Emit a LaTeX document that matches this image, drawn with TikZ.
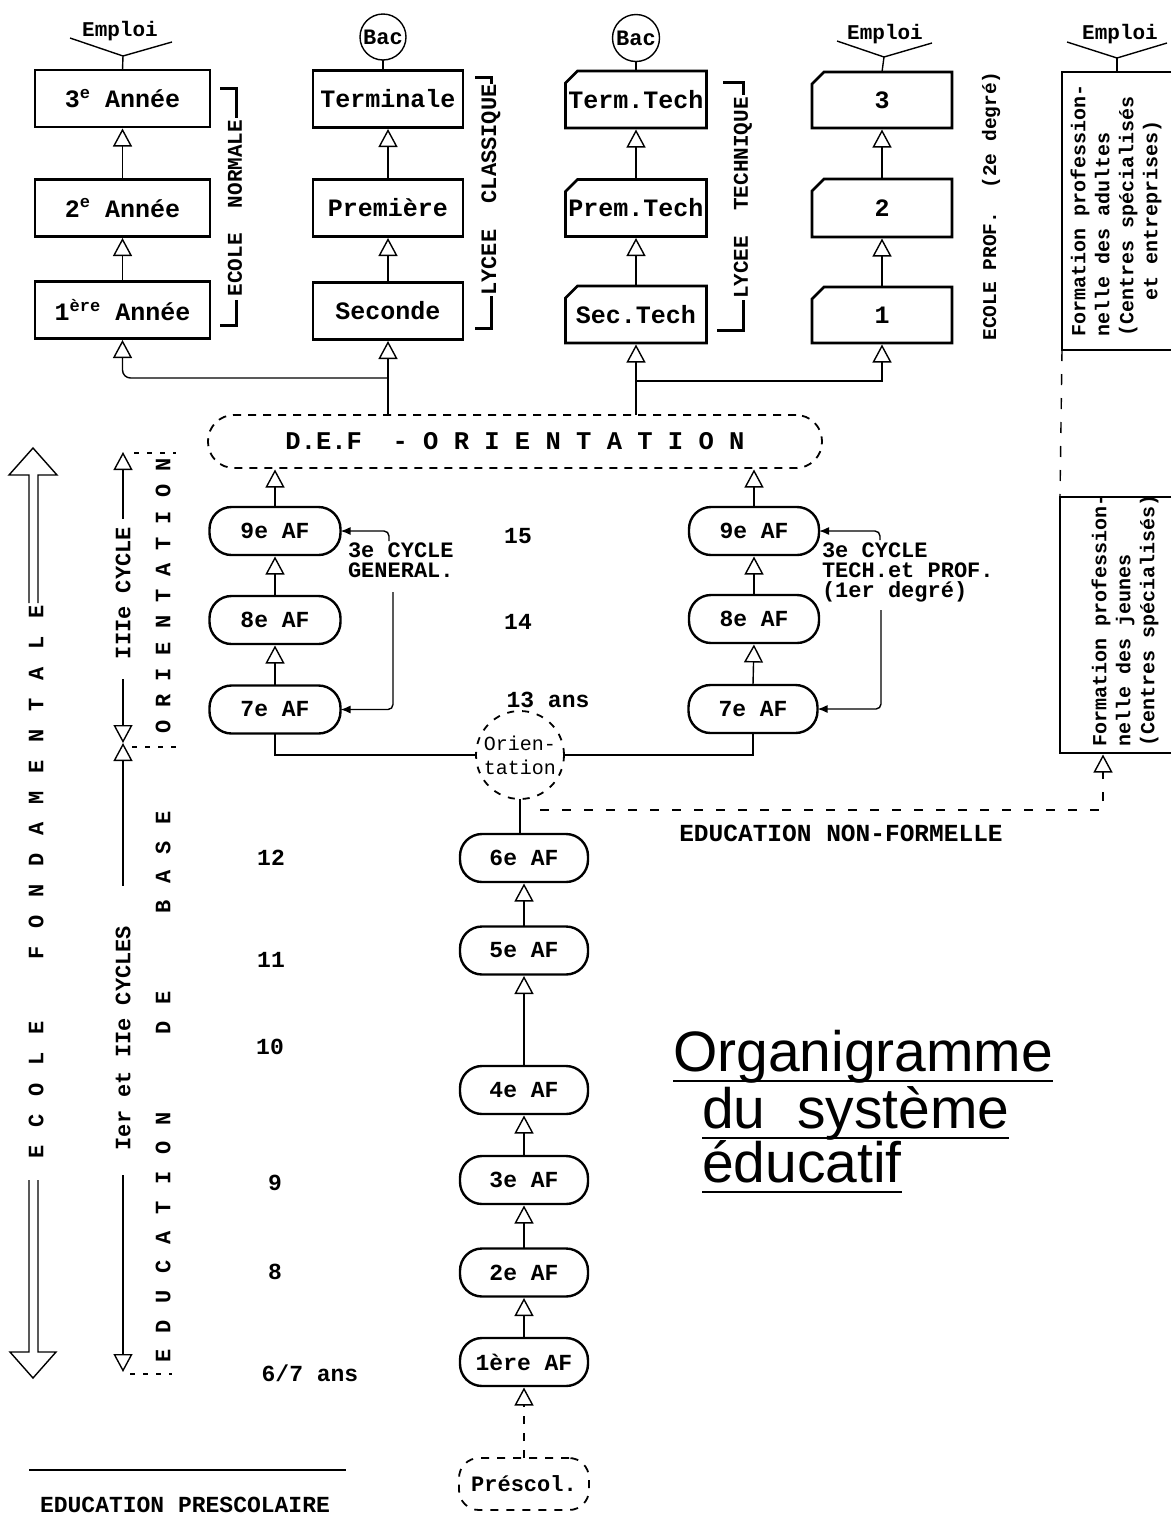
\documentclass[tikz,border=0pt]{standalone}
\usepackage{fontspec}
\setmainfont{Liberation Mono}
\newfontfamily\titlefont{Liberation Sans}
\usetikzlibrary{arrows.meta}
\newcommand\fs[1]{\fontsize{#1}{#1}\selectfont}
\newcommand\sups[1]{\raisebox{0.38em}{\fontsize{17}{17}\selectfont #1}}
\newcommand\chamfer[1]{\draw[line width=2.8pt] ([yshift=-12pt]#1.north west) -- ([xshift=12pt]#1.north west) -- (#1.north east) -- (#1.south east) -- (#1.south west) -- cycle;}
\begin{document}
\begin{tikzpicture}[x=1pt,y=-1pt,
  every node/.style={inner sep=0pt,outer sep=0pt},
  conn/.style={line width=1.4pt},
  oarr/.style={conn,shorten >=1.5pt,-{Triangle[open,length=18pt,width=19pt]}},
  farr/.style={conn,-{Latex[length=10pt,width=8pt]}},
  sqbox/.style={draw,line width=2.8pt,minimum height=57pt,font=\fs{25}\bfseries},
  cutnode/.style={minimum height=57pt,minimum width=141pt,font=\fs{25}\bfseries},
  afbox/.style={draw,line width=2.4pt,rounded corners=22pt,minimum width=131pt,minimum height=48pt,font=\fs{23}\bfseries},
  lowbox/.style={afbox,minimum width=128pt},
  vlab/.style={rotate=90,font=\fs{21}\bfseries},
  brk/.style={line width=3pt},
  agel/.style={font=\fs{23}\bfseries},
  emp/.style={font=\fs{21}\bfseries},
  dots/.style={line width=1.8pt,dash pattern=on 5pt off 8pt},
  thinbox/.style={line width=1.6pt},
  rtext/.style={rotate=90,align=left,font=\fontsize{20}{24}\selectfont\bfseries},
  ttl/.style={anchor=base west,font=\titlefont\fontsize{57}{57}\selectfont},
]
\fill[white] (0,0) rectangle (1171,1527);
\useasboundingbox (0,0) rectangle (1171,1527);

% ---------------- top row: column 1 (Ecole normale)
\node[sqbox,minimum width=175pt] (a3) at (122.5,98.5) {3\sups{e} Année};
\node[sqbox,minimum width=175pt] (a2) at (122.5,208) {2\sups{e} Année};
\node[sqbox,minimum width=175pt] (a1) at (122.5,310) {1\sups{ère} Année};
\draw[oarr] (a1.north) -- (a2.south);
\draw[oarr] (a2.north) -- (a3.south);
\node[emp] (emp1) at (120,31) {Emploi};
\coordinate (v1) at (123,56);
\draw[conn] (70,38) -- (v1) -- (172,42);
\draw[conn] (v1) -- (a3.north);
\node[vlab] (lbl1) at (235,208) {ECOLE~ NORMALE};
\draw[brk] (220,88) -- (236,88) -- (236,118);
\draw[brk] (236,300) -- (236,325) -- (220,325);

% column 2 (Lycee classique)
\node[sqbox,minimum width=150pt] (term) at (388,99) {Terminale};
\node[sqbox,minimum width=150pt] (prem) at (388,208) {Première};
\node[sqbox,minimum width=150pt] (sec) at (388,311) {Seconde};
\draw[oarr] (sec.north) -- (prem.south);
\draw[oarr] (prem.north) -- (term.south);
\node[draw,circle,line width=1.4pt,minimum size=46pt,font=\fs{22}\bfseries] (bac1) at (383,37) {Bac};
\draw[conn] (bac1.south) -- (bac1.south |- term.north);
\node[vlab,font=\fs{22}\bfseries] (lbl2) at (491,190) {LYCEE~ CLASSIQUE};
\draw[brk] (475,77) -- (491,77) -- (491,84);
\draw[brk] (491,296) -- (491,328) -- (475,328);

% column 3 (Lycee technique)
\node[cutnode] (tt) at (636,99.5) {Term.Tech};
\node[cutnode] (pt) at (636,208) {Prem.Tech};
\node[cutnode] (st) at (636,314.5) {Sec.Tech};
\chamfer{tt}\chamfer{pt}\chamfer{st}
\draw[oarr] (st.north) -- (pt.south);
\draw[oarr] (pt.north) -- (tt.south);
\node[draw,circle,line width=1.4pt,minimum size=47pt,font=\fs{22}\bfseries] (bac2) at (636,38) {Bac};
\draw[conn] (bac2.south) -- (tt.north);
\node[vlab] (lbl3) at (743,198) {LYCEE~ TECHNIQUE};
\draw[brk] (723,82) -- (743,82) -- (743,95);
\draw[brk] (743,300) -- (743,330) -- (717,330);

% column 4 (Ecole prof.)
\node[cutnode,minimum width=140pt,minimum height=56pt] (p3) at (882,100) {3};
\node[cutnode,minimum width=140pt,minimum height=58pt] (p2) at (882,208) {2};
\node[cutnode,minimum width=140pt,minimum height=56pt] (p1) at (882,315) {1};
\chamfer{p3}\chamfer{p2}\chamfer{p1}
\draw[oarr] (p1.north) -- (p2.south);
\draw[oarr] (p2.north) -- (p3.south);
\node[emp] (emp2) at (885,34) {Emploi};
\coordinate (v2) at (884,57);
\draw[conn] (837,41) -- (v2) -- (932,43);
\draw[conn] (v2) -- (p3.north);
\node[vlab,font=\fs{19.5}\bfseries] (lbl4) at (991,206) {ECOLE PROF.~ (2e degré)};

% far right boxes
\node[minimum width=109pt,minimum height=278pt] (adbox) at (1116.5,211) {};
\draw[thinbox] (adbox.north east) -- (adbox.north west) -- (adbox.south west) -- (adbox.south east);
\node[rtext] (adtext) at (1116,210) {Formation profession-\\nelle des adultes\\(Centres spécialisés\\\hspace*{36pt}et entreprises)};
\node[emp] (emp3) at (1120,34) {Emploi};
\coordinate (v3) at (1117,58);
\draw[conn] (1067,42) -- (v3) -- (1167,43);
\draw[conn] (v3) -- (v3 |- adbox.north);
\node[minimum width=111pt,minimum height=256pt] (jbox) at (1115.5,625) {};
\draw[thinbox] (jbox.north east) -- (jbox.north west) -- (jbox.south west) -- (jbox.south east);
\node[rtext] (jtext) at (1125,620) {Formation profession-\\nelle des jeunes\\(Centres spécialisés)};
\draw[conn,dash pattern=on 11pt off 13pt] (adbox.south west) -- (jbox.north west);

% ---------------- fork to upper cycle
\node[draw,dash pattern=on 8pt off 7pt,line width=1.8pt,rounded corners=26pt,minimum width=614pt,minimum height=53pt,font=\fs{25.5}\bfseries] (def) at (515,441.5) {D.E.F~~- O R I E N T A T I O N};
\coordinate (jl) at (388,378);
\coordinate (jr) at (636,381);
\draw[oarr] (jl |- def.north) -- (sec.south);
\draw[oarr,rounded corners=8pt] (jl) -| (a1.south);
\draw[oarr] (jr |- def.north) -- (st.south);
\draw[oarr] (jr) -| (p1.south);

% ---------------- 3e cycle
\node[afbox] (n9L) at (275,531) {9e AF};
\node[afbox] (n8L) at (275,620) {8e AF};
\node[afbox] (n7L) at (275,709.5) {7e AF};
\node[afbox,minimum width=130pt] (n9R) at (754,531) {9e AF};
\node[afbox,minimum width=130pt] (n8R) at (754,619) {8e AF};
\node[afbox,minimum width=129pt] (n7R) at (753,709) {7e AF};
\draw[oarr] (n9L.north) -- (n9L.north |- def.south);
\draw[oarr] (n9R.north) -- (n9R.north |- def.south);
\draw[oarr] (n8L.north) -- (n9L.south);
\draw[oarr] (n7L.north) -- (n8L.south);
\draw[oarr] (n8R.north) -- (n9R.south);
\draw[oarr] (n7R.north) -- (n8R.south);

\node[anchor=north west,align=left,font=\fontsize{22}{20}\selectfont\bfseries] (cycG) at (348,543) {3e CYCLE\\GENERAL.};
\node[anchor=north west,align=left,font=\fontsize{22}{20}\selectfont\bfseries] (cycT) at (822,543) {3e CYCLE\\TECH.et PROF.\\(1er degré)};
\coordinate (hg1) at (389,541);
\coordinate (hg2) at (393,592);
\coordinate (ht1) at (880,540);
\coordinate (ht2) at (881,610);
\draw[farr,rounded corners=5pt] (hg1) |- (n9L.east);
\draw[farr,rounded corners=5pt] (hg2) |- (n7L.east);
\draw[farr,rounded corners=5pt] (ht1) |- (n9R.east);
\draw[farr,rounded corners=5pt] (ht2) |- (n7R.east);

% ages
\node[agel] (g15) at (518,536) {15};
\node[agel] (g14) at (518,622) {14};
\node[agel] (g13) at (548,700) {13 ans};
\node[agel] (g12) at (271,858) {12};
\node[agel] (g11) at (271,960) {11};
\node[agel] (g10) at (270,1047) {10};
\node[agel] (g9) at (275,1183) {9};
\node[agel] (g8) at (275,1272) {8};
\node[agel] (g67) at (310,1373) {6/7 ans};

% orientation circle
\node[draw,circle,dash pattern=on 7pt off 8pt,line width=1.8pt,minimum size=88pt,align=center,font=\fontsize{20}{24}\selectfont] (orient) at (520,755) {Orien-\\tation};
\draw[conn] (n7L.south) |- (orient.west);
\draw[conn] (orient.east) -| (n7R.south);

% ---------------- lower column
\node[lowbox] (n6) at (524,858) {6e AF};
\node[lowbox] (n5) at (524,950.5) {5e AF};
\node[lowbox] (n4) at (524,1090) {4e AF};
\node[lowbox] (n3) at (524,1180) {3e AF};
\node[lowbox] (n2) at (524,1272.5) {2e AF};
\node[lowbox] (n1) at (524,1362) {1ère AF};
\node[draw,dash pattern=on 8pt off 8pt,line width=1.8pt,rounded corners=20pt,minimum width=130pt,minimum height=52pt,font=\fs{22}\bfseries] (pre) at (524,1484) {Préscol.};
\draw[conn] (orient.south) -- (orient.south |- n6.north);
\draw[oarr] (n5.north) -- (n6.south);
\draw[oarr] (n4.north) -- (n5.south);
\draw[oarr] (n3.north) -- (n4.south);
\draw[oarr] (n2.north) -- (n3.south);
\draw[oarr] (n1.north) -- (n2.south);
\draw[oarr,dash pattern=on 8pt off 9pt] (pre.north) -- (n1.south);

% non-formal education
\node[font=\fs{24.5}\bfseries] (enf) at (841,833) {EDUCATION NON-FORMELLE};
\coordinate (nf) at (540,810);
\draw[oarr,dash pattern=on 9pt off 13pt] (nf) -| ([xshift=43pt]jbox.south west);

% preschool
\draw[line width=2.5pt] (29,1470) -- (346,1470);
\node[font=\fs{23}\bfseries] (epre) at (185,1505) {EDUCATION PRESCOLAIRE};

% ---------------- left side labels
\draw[conn] (29,603) -- (29,475) -- (9,475) -- (33,448) -- (57,475) -- (38,475) -- (38,603);
\draw[conn] (29,1180) -- (29,1352) -- (10,1352) -- (33,1378) -- (56,1352) -- (38,1352) -- (38,1180);
\node[rotate=90,font=\fs{22}\bfseries] (ecf) at (36,882) {\spaceskip=17.8pt\relax E C O L E\hspace{61.8pt}F O N D A M E N T A L E};
\node[rotate=90,font=\fs{22}\bfseries] (edb) at (163,1087) {\spaceskip=16.5pt\relax E D U C A T I O N\hspace{77.8pt}D E\hspace{77.8pt}B A S E};
\node[rotate=90,font=\fs{22}\bfseries] (ori) at (163,596) {\spaceskip=13pt\relax O R I E N T A T I O N};
\node[rotate=90,font=\fs{22}\bfseries] (iii) at (123,593) {IIIe CYCLE};
\node[rotate=90,font=\fs{22}\bfseries] (ier) at (123,1038) {Ier et IIe CYCLES};
\coordinate (ctop) at (123,452);
\coordinate (cmid) at (123,743);
\coordinate (cbot) at (123,1372);
\draw[oarr,shorten >=0pt] ([yshift=8pt]iii.east) -- (ctop);
\draw[oarr,shorten >=0pt] ([yshift=-20pt]iii.west) -- (cmid);
\draw[oarr,shorten >=0pt] ([yshift=40pt]ier.east) -- (cmid);
\draw[oarr,shorten >=0pt] ([yshift=-25pt]ier.west) -- (cbot);
\draw[dots] (134,453) -- (176,453);
\draw[dots] (132,747) -- (176,747);
\draw[dots] (130,1374) -- (172,1374);

% ---------------- title
\node[ttl] (t1) at (673,1071) {Organigramme};
\node[ttl] (t2) at (702,1128) {du~ système};
\node[ttl] (t3) at (702,1182) {éducatif};
\draw[line width=2.6pt] ([yshift=-10pt]t1.base west) -- ([yshift=-10pt]t1.base east);
\draw[line width=2.6pt] ([yshift=-10pt]t2.base west) -- ([yshift=-10pt]t2.base east);
\draw[line width=2.6pt] ([yshift=-10pt]t3.base west) -- ([yshift=-10pt]t3.base east);
\end{tikzpicture}
\end{document}
